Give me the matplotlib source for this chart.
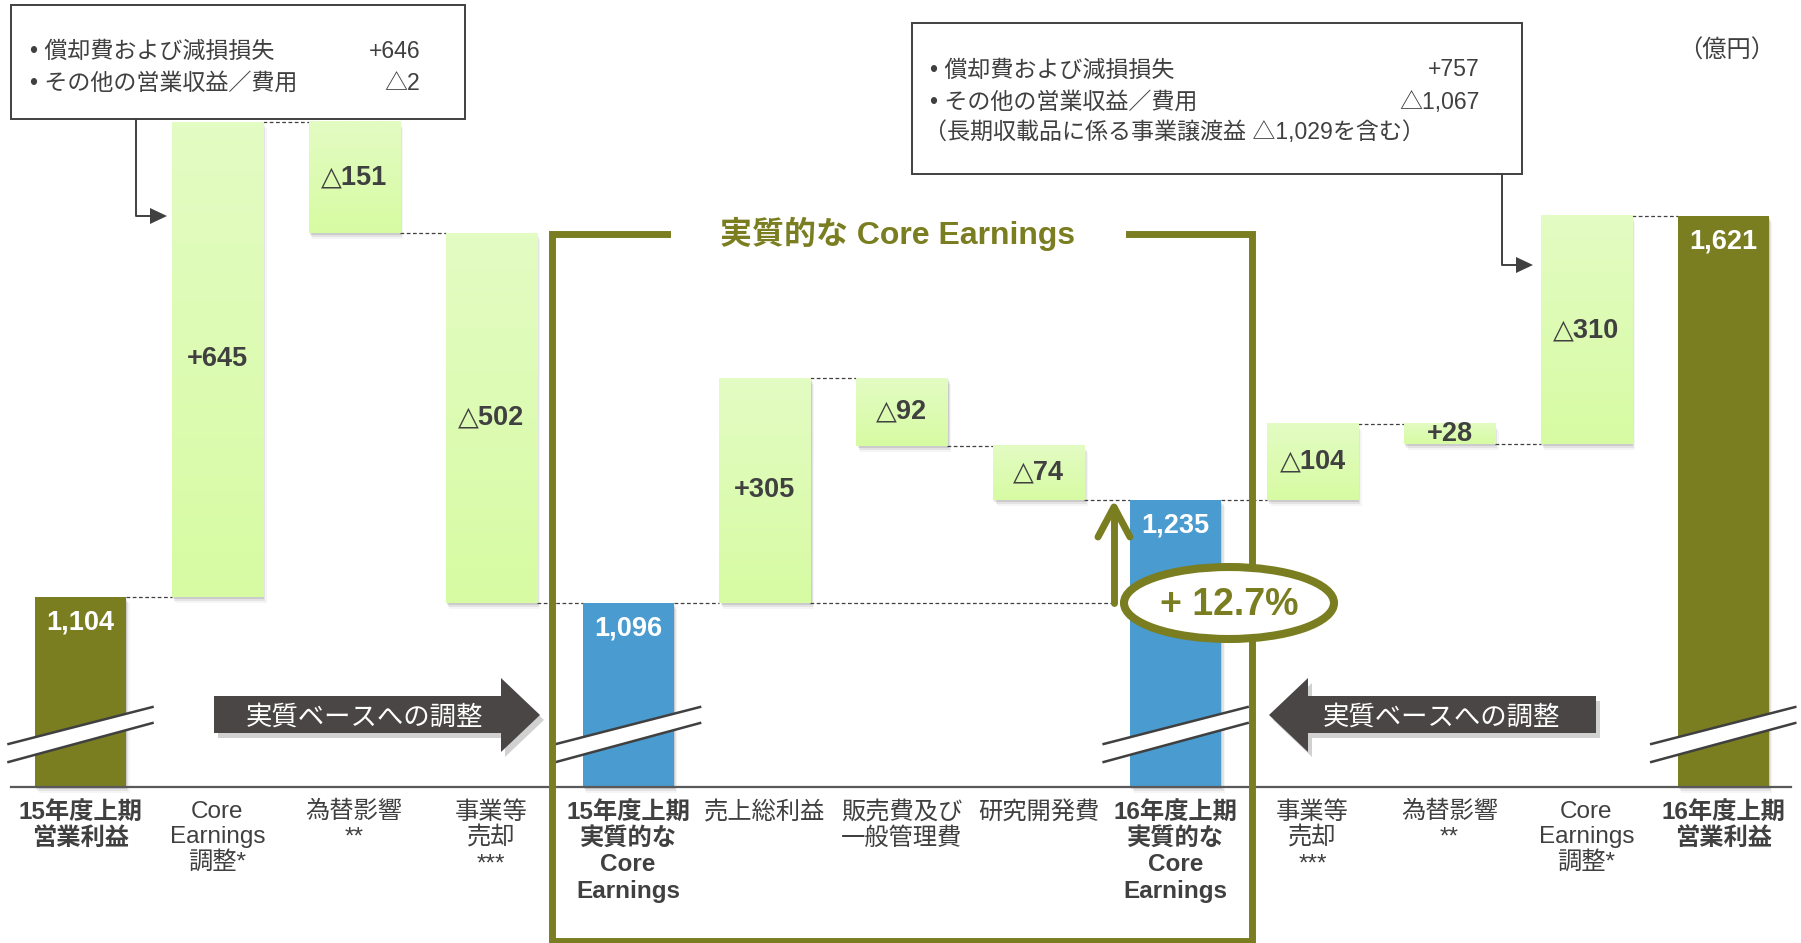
import numpy as np
import matplotlib
matplotlib.use("Agg")
import matplotlib.pyplot as plt
from matplotlib import transforms as mtransforms
from matplotlib.patches import Rectangle, Polygon, Ellipse
from matplotlib.lines import Line2D
from matplotlib.colors import LinearSegmentedColormap

plt.rcParams['font.family'] = ['Liberation Sans', 'Noto Sans CJK JP']
VALUE_FONT = ['Liberation Sans', 'DejaVu Sans', 'Noto Sans CJK JP']

# ---------------- data ----------------
categories = ["15年度上期\n営業利益", "Core\nEarnings\n調整*", "為替影響\n**", "事業等\n売却\n***",
              "15年度上期\n実質的な\nCore\nEarnings", "売上総利益", "販売費及び\n一般管理費", "研究開発費",
              "16年度上期\n実質的な\nCore\nEarnings", "事業等\n売却\n***", "為替影響\n**",
              "Core\nEarnings\n調整*", "16年度上期\n営業利益"]
is_total = [True, False, False, False, True, False, False, False, True, False, False, False, True]
totals = [1104, 1096, 1235, 1621]
total_labels = ["1,104", "1,096", "1,235", "1,621"]
# movements in the direction the waterfall is drawn
steps = [645, -151, -502, 305, -92, -74, 104, -28, 310]
step_labels = ["+645", "△151", "△502", "+305", "△92", "△74", "△104", "+28", "△310"]
growth_label = "+ 12.7%"
unit_label = "（億円）"
frame_title = "実質的な Core Earnings"
adjust_label = "実質ベースへの調整"
box1_rows = [("• 償却費および減損損失", "+646"), ("• その他の営業収益／費用", "△2")]
box2_rows = [("• 償却費および減損損失", "+757"), ("• その他の営業収益／費用", "△1,067")]
box2_note = "（長期収載品に係る事業譲渡益 △1,029を含む）"

# ---------------- style ----------------
OLIVE = "#7A7E21"
BLUE = "#4A9BCF"
DARK = "#404040"
ARROWC = "#4A4646"
total_colors = [OLIVE, BLUE, BLUE, OLIVE]
W, H = 1801, 943
BASE = 845.6          # value at the (broken) axis line
YLIM = (633.7, 1914.3)
XLIM = (-0.588, 12.568)
BAR_W = 0.665

fig = plt.figure(figsize=(W / 100, H / 100), dpi=100)
ax = fig.add_axes([0, 0, 1, 1])
ax.set_xlim(*XLIM)
ax.set_ylim(*YLIM)
ax.axis('off')

T = mtransforms.Affine2D().scale(1, -1).translate(0, H)      # pixel coords, origin top-left
BX = mtransforms.blended_transform_factory(ax.transData, T)    # x data, y pixel

# ---------------- compute waterfall ----------------
bars = []   # (x, low, high, kind, label, color)
level = None
t_i = 0
s_i = 0
levels_after = []
for i, tot in enumerate(is_total):
    if tot:
        v = totals[t_i]
        bars.append((i, BASE, v, 'total', total_labels[t_i], total_colors[t_i]))
        level = v
        t_i += 1
    else:
        d = steps[s_i]
        lo, hi = min(level, level + d), max(level, level + d)
        bars.append((i, lo, hi, 'step', step_labels[s_i], None))
        level = level + d
        s_i += 1
    levels_after.append(level)

cmap = LinearSegmentedColormap.from_list("lg", ["#E3FCC3", "#D7FBA3"])
grad = np.linspace(0, 1, 64).reshape(-1, 1)

for (x, lo, hi, kind, lab, col) in bars:
    # soft shadow
    for k, a in [(2, 0.10), (4, 0.07), (6, 0.04)]:
        tr = mtransforms.offset_copy(ax.transData, fig, x=k * 0.6, y=-k, units='dots')
        ax.add_patch(Rectangle((x - BAR_W / 2, lo), BAR_W, hi - lo, transform=tr,
                               fc='#000000', alpha=a, ec='none', zorder=1))
    if kind == 'total':
        ax.bar(x, hi - lo, bottom=lo, width=BAR_W, color=col, zorder=2)
        ax.annotate(lab, xy=(x, hi), xytext=(0, -18.5), textcoords='offset points',
                    ha='center', va='center', color='white', fontsize=19.5,
                    fontweight='bold', family=VALUE_FONT, zorder=6)
    else:
        ax.bar(x, hi - lo, bottom=lo, width=BAR_W, color="#DCFBB0", zorder=2)
        ax.imshow(grad, extent=(x - BAR_W / 2, x + BAR_W / 2, lo, hi), aspect='auto',
                  cmap=cmap, origin='upper', zorder=2.1, interpolation='bilinear')
        ax.text(x, (lo + hi) / 2, lab, ha='center', va='center', color=DARK,
                fontsize=19.5, fontweight='bold', family=VALUE_FONT, zorder=6)

# dashed connectors between bars
for i in range(len(bars) - 1):
    x0 = bars[i][0] + BAR_W / 2
    x1 = bars[i + 1][0] - BAR_W / 2
    lv = levels_after[i]
    ax.plot([x0, x1], [lv, lv], color=DARK, lw=0.9, ls=(0, (3, 2)), zorder=1.5)
# extended level line from 15 core earnings to the growth arrow
ax.plot([5 + BAR_W / 2, 7.55], [totals[1], totals[1]], color=DARK, lw=0.9,
        ls=(0, (3, 2)), zorder=1.5)

# axis line
ax.plot([XLIM[0] + 0.08, XLIM[1] - 0.07], [BASE, BASE], color="#595959", lw=1.6, zorder=3)

# axis break marks on total bars
for (x, lo, hi, kind, lab, col) in bars:
    if kind != 'total':
        continue
    hw = 0.526
    poly = Polygon([(x - hw, 744), (x + hw, 707), (x + hw, 723), (x - hw, 762)],
                   closed=True, transform=BX, fc='white', ec='none', zorder=4)
    ax.add_patch(poly)
    for (ya, yb) in [(744, 707), (762, 723)]:
        ax.add_line(Line2D([x - hw, x + hw], [ya, yb], transform=BX, color=DARK,
                           lw=1.8, zorder=4.1))

# category labels
for i, c in enumerate(categories):
    ax.text(i, 801, c, transform=BX, ha='center', va='top', fontsize=17.5,
            color=DARK, fontweight='bold' if is_total[i] else 'normal',
            linespacing=1.18, zorder=6)

# ---------------- frame ----------------
frame = Line2D([667, 552, 552, 1252, 1252, 1129], [234, 234, 941, 941, 234, 234],
               transform=T, color=OLIVE, lw=5.0, solid_joinstyle='miter', zorder=5)
ax.add_line(frame)
ax.text(898, 234, frame_title, transform=T, ha='center', va='center', fontsize=23,
        fontweight='bold', color=OLIVE, zorder=6)

# growth ellipse and arrow
ax.add_patch(Ellipse((1229, 603), 210, 72, transform=T, fc='white', ec=OLIVE, lw=5.8, zorder=7))
ax.text(1229, 605, growth_label, transform=T, ha='center', va='center', fontsize=27,
        fontweight='bold', color=OLIVE, zorder=8)
ax.add_line(Line2D([1114, 1114], [603, 508], transform=T, color=OLIVE, lw=5,
                   solid_capstyle='round', zorder=7))
ax.add_line(Line2D([1098, 1114, 1130], [537, 507, 537], transform=T, color=OLIVE, lw=5,
                   solid_capstyle='round', solid_joinstyle='round', zorder=7))

# ---------------- big adjustment arrows ----------------
def big_arrow(pts, text_xy):
    sh = Polygon([(px + 4, py + 5) for px, py in pts], closed=True, transform=T,
                 fc='#000000', alpha=0.18, ec='none', zorder=3)
    ax.add_patch(sh)
    ax.add_patch(Polygon(pts, closed=True, transform=T, fc=ARROWC, ec='none', zorder=3.1))
    ax.text(text_xy[0], text_xy[1], adjust_label, transform=T, ha='center', va='center',
            fontsize=19, color='white', zorder=6)

big_arrow([(214, 696), (501, 696), (501, 678), (540, 715), (501, 752), (501, 733), (214, 733)],
          (364, 717))
big_arrow([(1596, 696), (1308, 696), (1308, 678), (1269, 715), (1308, 752), (1308, 733), (1596, 733)],
          (1441, 717))

# ---------------- annotation boxes ----------------
ax.add_patch(Rectangle((11, 5), 454, 114, transform=T, fc='white', ec=DARK, lw=1.4, zorder=5))
for r, (lab, val) in enumerate(box1_rows):
    y = 51 + r * 32
    ax.text(30, y, lab, transform=T, ha='left', va='center', fontsize=16.6, color=DARK, zorder=6)
    ax.text(420, y, val, transform=T, ha='right', va='center', fontsize=16.6, color=DARK, zorder=6)
ax.add_line(Line2D([135.5, 135.5, 152], [119, 216, 216], transform=T, color=DARK, lw=1.4, zorder=5))
ax.add_patch(Polygon([(150, 208), (167, 216), (150, 224)], closed=True, transform=T,
                     fc=DARK, ec='none', zorder=5))

ax.add_patch(Rectangle((912, 23), 610, 151, transform=T, fc='white', ec=DARK, lw=1.4, zorder=5))
for r, (lab, val) in enumerate(box2_rows):
    y = 70 + r * 32
    ax.text(930, y, lab, transform=T, ha='left', va='center', fontsize=16.6, color=DARK, zorder=6)
    ax.text(1480, y, val, transform=T, ha='right', va='center', fontsize=16.6, color=DARK, zorder=6)
ax.text(924, 133, box2_note, transform=T, ha='left', va='center', fontsize=16.6, color=DARK, zorder=6)
ax.add_line(Line2D([1502, 1502, 1518], [174, 265, 265], transform=T, color=DARK, lw=1.4, zorder=5))
ax.add_patch(Polygon([(1516, 257), (1533, 265), (1516, 273)], closed=True, transform=T,
                     fc=DARK, ec='none', zorder=5))

ax.text(1727, 51, unit_label, transform=T, ha='center', va='center', fontsize=17.5,
        color=DARK, zorder=6)

fig.savefig("out.png", dpi=100)
